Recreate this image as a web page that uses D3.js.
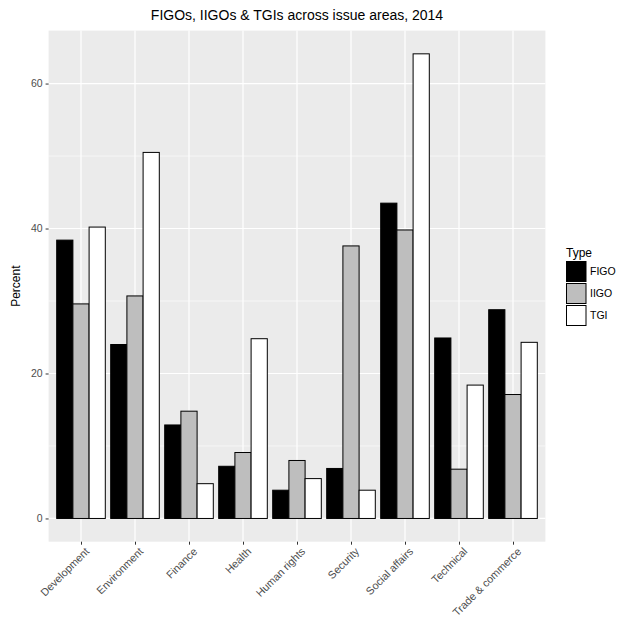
<!DOCTYPE html>
<html><head><meta charset="utf-8">
<script src="https://cdn.jsdelivr.net/npm/d3@7"></script>
<style>body{margin:0;background:#fff;} text{font-family:"Liberation Sans",Arial,sans-serif;}</style>
</head><body>
<svg id="chart" width="618" height="617"></svg>
<script>
const categories = ["Development","Environment","Finance","Health","Human rights","Security","Social affairs","Technical","Trade & commerce"];
const types = ["FIGO","IIGO","TGI"];
const figo = [38.4, 24.0, 12.9, 7.2, 3.9, 6.9, 43.5, 24.9, 28.8];
const iigo = [29.6, 30.7, 14.8, 9.1, 8.0, 37.6, 39.8, 6.8, 17.1];
const tgi  = [40.2, 50.5, 4.8, 24.8, 5.5, 3.9, 64.1, 18.4, 24.3];
const yTicks = [0, 20, 40, 60];
const yMinor = [10, 30, 50];
const fills = {FIGO:"#000000", IIGO:"#BEBEBE", TGI:"#FFFFFF"};

const series = {FIGO: figo, IIGO: iigo, TGI: tgi};
const svg = d3.select("#chart");
const L = 48.6, R = 545.4, T = 30.6, B = 541.7;

const allVals = figo.concat(iigo, tgi);
const yMax = d3.max(allVals), yPad = (yMax - 0) * 0.05;
const y = d3.scaleLinear().domain([0 - yPad, yMax + yPad]).range([B, T]);
const unit = (R - L) / (categories.length + 0.2);
const xc = d3.scalePoint().domain(categories).range([L + 0.6*unit, R - 0.6*unit]);
const barW = unit * 0.9 / 3;

// panel
svg.append("rect").attr("x", L).attr("y", T).attr("width", R-L).attr("height", B-T).attr("fill", "#EBEBEB");
const g = svg.append("g");
yMinor.forEach(v => g.append("line").attr("x1", L).attr("x2", R).attr("y1", y(v)).attr("y2", y(v)).attr("stroke", "#fff").attr("stroke-width", 0.6));
yTicks.forEach(v => g.append("line").attr("x1", L).attr("x2", R).attr("y1", y(v)).attr("y2", y(v)).attr("stroke", "#fff").attr("stroke-width", 1.2));
categories.forEach(c => g.append("line").attr("x1", xc(c)).attr("x2", xc(c)).attr("y1", T).attr("y2", B).attr("stroke", "#fff").attr("stroke-width", 1.2));

// bars
const rows = [];
categories.forEach((c, i) => types.forEach((t, j) => rows.push({c, t, j, v: series[t][i]})));
svg.append("g").selectAll("rect").data(rows).join("rect")
  .attr("x", d => xc(d.c) - 1.5*barW + d.j*barW)
  .attr("width", barW)
  .attr("y", d => y(d.v))
  .attr("height", d => y(0) - y(d.v))
  .attr("fill", d => fills[d.t])
  .attr("stroke", "#000").attr("stroke-width", 1);

// y axis
const yAxis = d3.axisLeft(y).tickValues(yTicks).tickSize(3).tickPadding(3).tickFormat(d3.format("d"));
const ya = svg.append("g").attr("transform", `translate(${L},0)`).call(yAxis);
ya.select(".domain").remove();
ya.selectAll(".tick line").attr("stroke", "#333");
ya.selectAll(".tick text").attr("fill", "#4D4D4D").style("font-size", "10.5px");

// x axis
const xAxis = d3.axisBottom(xc).tickSize(3).tickPadding(0);
const xa = svg.append("g").attr("transform", `translate(0,${B})`).call(xAxis);
xa.select(".domain").remove();
xa.selectAll(".tick line").attr("stroke", "#333");
xa.selectAll(".tick text").attr("fill", "#4D4D4D").style("font-size", "10.8px")
  .attr("text-anchor", "end").attr("y", 0).attr("dy", "0.71em")
  .attr("transform", "translate(3,5) rotate(-45)");

// titles
svg.append("text").attr("x", (L+R)/2).attr("y", 20).attr("text-anchor", "middle")
  .style("font-size", "14px").attr("fill", "#000").text("FIGOs, IIGOs & TGIs across issue areas, 2014");
svg.append("text").attr("transform", `translate(20,${(T+B)/2}) rotate(-90)`).attr("text-anchor", "middle")
  .style("font-size", "12px").attr("fill", "#000").text("Percent");

// legend
const lg = svg.append("g").attr("transform", "translate(566,0)");
lg.append("text").attr("x", 0).attr("y", 257).style("font-size", "12px").attr("fill", "#000").text("Type");
types.forEach((t, i) => {
  const ky = 261.5 + i*22;
  lg.append("rect").attr("x", 0.5).attr("y", ky).attr("width", 19.5).attr("height", 20)
    .attr("fill", fills[t]).attr("stroke", "#000").attr("stroke-width", 1);
  lg.append("text").attr("x", 24).attr("y", ky + 10).attr("dy", "0.35em")
    .style("font-size", "10.5px").attr("fill", "#000").text(t);
});
</script>
</body></html>
